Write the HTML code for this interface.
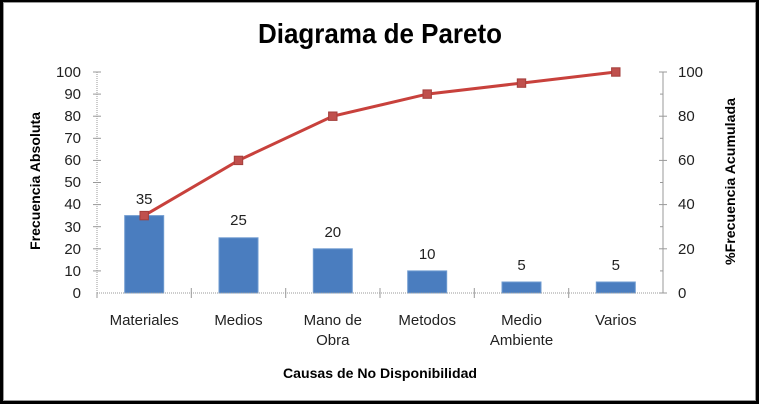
<!DOCTYPE html>
<html><head><meta charset="utf-8"><style>
html,body{margin:0;padding:0;background:#000;}
svg{display:block;}
</style></head><body>
<svg width="759" height="404" viewBox="0 0 759 404" xmlns="http://www.w3.org/2000/svg" font-family="'Liberation Sans', sans-serif">
<rect x="0" y="0" width="759" height="404" fill="#000"/>
<rect x="3.5" y="2.5" width="752" height="398" fill="#fff" stroke="#9a9a9a" stroke-width="1"/>
<!-- Title -->
<text x="380" y="43" font-size="28" font-weight="bold" text-anchor="middle" textLength="244" lengthAdjust="spacingAndGlyphs" fill="#000">Diagrama de Pareto</text>
<!-- left axis -->
<line x1="97" y1="72" x2="97" y2="293" stroke="#999" stroke-width="1" stroke-dasharray="1,1"/>
<g stroke="#999" stroke-width="1">
<line x1="93" y1="72" x2="101" y2="72"/><line x1="93" y1="94.1" x2="101" y2="94.1"/><line x1="93" y1="116.2" x2="101" y2="116.2"/><line x1="93" y1="138.3" x2="101" y2="138.3"/><line x1="93" y1="160.4" x2="101" y2="160.4"/><line x1="93" y1="182.5" x2="101" y2="182.5"/><line x1="93" y1="204.6" x2="101" y2="204.6"/><line x1="93" y1="226.7" x2="101" y2="226.7"/><line x1="93" y1="248.8" x2="101" y2="248.8"/><line x1="93" y1="270.9" x2="101" y2="270.9"/>
</g>
<g font-size="15" fill="#222" text-anchor="end">
<text x="81" y="77">100</text><text x="81" y="99">90</text><text x="81" y="121">80</text><text x="81" y="143">70</text><text x="81" y="165">60</text><text x="81" y="187">50</text><text x="81" y="209">40</text><text x="81" y="232">30</text><text x="81" y="254">20</text><text x="81" y="276">10</text><text x="81" y="298">0</text>
</g>
<!-- right axis -->
<line x1="663" y1="72" x2="663" y2="293" stroke="#999" stroke-width="1"/>
<g stroke="#999" stroke-width="1">
<line x1="659" y1="72" x2="667" y2="72"/><line x1="659" y1="116.2" x2="667" y2="116.2"/><line x1="659" y1="160.4" x2="667" y2="160.4"/><line x1="659" y1="204.6" x2="667" y2="204.6"/><line x1="659" y1="248.8" x2="667" y2="248.8"/><line x1="659" y1="293" x2="667" y2="293"/>
<line x1="660" y1="94.1" x2="663" y2="94.1"/><line x1="660" y1="138.3" x2="663" y2="138.3"/><line x1="660" y1="182.5" x2="663" y2="182.5"/><line x1="660" y1="226.7" x2="663" y2="226.7"/><line x1="660" y1="270.9" x2="663" y2="270.9"/>
</g>
<g font-size="15" fill="#222">
<text x="678" y="77">100</text><text x="678" y="121">80</text><text x="678" y="165">60</text><text x="678" y="209">40</text><text x="678" y="254">20</text><text x="678" y="298">0</text>
</g>
<!-- bars -->
<g fill="#4a7dbf" stroke="#6f9bd0" stroke-width="1">
<rect x="124.7" y="215.6" width="39" height="77.4"/>
<rect x="219" y="237.8" width="39" height="55.2"/>
<rect x="313.3" y="248.8" width="39" height="44.2"/>
<rect x="407.7" y="270.9" width="39" height="22.1"/>
<rect x="502" y="282" width="39" height="11"/>
<rect x="596.3" y="282" width="39" height="11"/>
</g>
<!-- bottom axis -->
<line x1="97" y1="293" x2="663" y2="293" stroke="#999" stroke-width="1" stroke-dasharray="1,1"/>
<g stroke="#999" stroke-width="1">
<line x1="191.3" y1="288" x2="191.3" y2="298"/><line x1="285.7" y1="288" x2="285.7" y2="298"/><line x1="380" y1="288" x2="380" y2="298"/><line x1="474.3" y1="288" x2="474.3" y2="298"/><line x1="568.7" y1="288" x2="568.7" y2="298"/><line x1="97" y1="293" x2="97" y2="298"/>
</g>
<!-- data labels -->
<g font-size="15" fill="#222" text-anchor="middle">
<text x="144.2" y="204">35</text><text x="238.5" y="225">25</text><text x="332.8" y="237">20</text><text x="427.2" y="259">10</text><text x="521.5" y="270">5</text><text x="615.8" y="270">5</text>
</g>
<!-- line -->
<polyline points="144.2,215.6 238.5,160.4 332.8,116.2 427.2,94.1 521.5,83.1 615.8,72" fill="none" stroke="#c8413c" stroke-width="3"/>
<g fill="#c0504d" stroke="#a33e3b" stroke-width="1">
<rect x="140" y="211.4" width="8.4" height="8.4"/>
<rect x="234.3" y="156.2" width="8.4" height="8.4"/>
<rect x="328.6" y="112" width="8.4" height="8.4"/>
<rect x="423" y="89.9" width="8.4" height="8.4"/>
<rect x="517.3" y="78.9" width="8.4" height="8.4"/>
<rect x="611.6" y="67.8" width="8.4" height="8.4"/>
</g>
<!-- category labels -->
<g font-size="15" fill="#222" text-anchor="middle">
<text x="144.2" y="325">Materiales</text>
<text x="238.5" y="325">Medios</text>
<text x="332.8" y="325">Mano de</text>
<text x="332.8" y="345">Obra</text>
<text x="427.2" y="325">Metodos</text>
<text x="521.5" y="325">Medio</text>
<text x="521.5" y="345">Ambiente</text>
<text x="615.8" y="325">Varios</text>
</g>
<!-- axis titles -->
<text x="380" y="378" font-size="14" font-weight="bold" text-anchor="middle" textLength="194" lengthAdjust="spacingAndGlyphs" fill="#000">Causas de No Disponibilidad</text>
<text transform="translate(40,181) rotate(-90)" font-size="14" font-weight="bold" text-anchor="middle" textLength="138" lengthAdjust="spacingAndGlyphs" fill="#000">Frecuencia Absoluta</text>
<text transform="translate(735,181.5) rotate(-90)" font-size="14" font-weight="bold" text-anchor="middle" textLength="167" lengthAdjust="spacingAndGlyphs" fill="#000">%Frecuencia Acumulada</text>
</svg>
</body></html>
